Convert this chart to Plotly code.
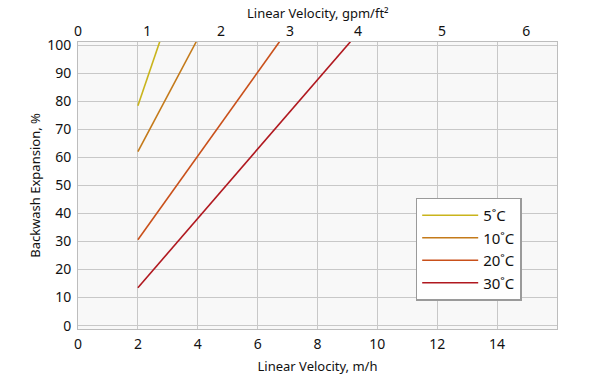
import plotly.graph_objects as go

series_names = ["5˚C", "10˚C", "20˚C", "30˚C"]
series_x = [[2, 2.73], [2, 3.95], [2, 6.73], [2, 9.10]]
series_y = [[78.4, 101.2], [62.0, 101.2], [30.6, 101.2], [13.5, 101.2]]
colors = ["#c9b41c", "#c47a1a", "#c9501a", "#b0181f"]

bottom_ticks = [0, 2, 4, 6, 8, 10, 12, 14]
top_tick_pos = [0, 2.31, 4.78, 7.08, 9.35, 12.16, 14.97]
top_tick_text = ["0", "1", "2", "3", "4", "5", "6"]
y_ticks = list(range(0, 101, 10))

font = "Noto Sans"
fig = go.Figure()
for n, xs, ys, c in zip(series_names, series_x, series_y, colors):
    fig.add_trace(go.Scatter(x=xs, y=ys, mode="lines", name=n,
                             line=dict(color=c, width=1.6)))
fig.add_trace(go.Scatter(x=[0, 16], y=[None, None], xaxis="x2", showlegend=False,
                         hoverinfo="skip", mode="lines"))

fig.update_layout(
    width=600, height=377,
    margin=dict(l=78, r=43, t=42, b=48),
    paper_bgcolor="white", plot_bgcolor="#f8f8f8",
    font=dict(family=font, size=14, color="#111"),
    xaxis=dict(range=[0, 16], tickvals=bottom_ticks, showgrid=True, automargin=False,
               gridcolor="#c8c8c8", gridwidth=1, showline=True, linecolor="#bdbdbd",
               mirror=True, zeroline=False, ticks="", tickfont=dict(size=14),
               ticklabelstandoff=2,
               title=dict(text="Linear Velocity, m/h", font=dict(size=13), standoff=10)),
    xaxis2=dict(range=[0, 16], overlaying="x", side="top", tickvals=top_tick_pos,
                ticktext=top_tick_text, showgrid=False, zeroline=False, ticks="",
                automargin=False, tickfont=dict(size=14), ticklabelstandoff=2),
    yaxis=dict(range=[-1.2, 101.1], tickvals=y_ticks, showgrid=True, automargin=False,
               gridcolor="#c8c8c8", gridwidth=1, showline=True, linecolor="#bdbdbd",
               mirror=True, zeroline=False, ticks="", tickfont=dict(size=14),
               ticklabelstandoff=3,
               title=dict(text="Backwash Expansion, %", font=dict(size=13), standoff=3)),
    legend=dict(x=0.705, y=0.458, xanchor="left", yanchor="top",
                bgcolor="white", bordercolor="#9a9a9a", borderwidth=1.5,
                font=dict(size=15), itemwidth=56),
    annotations=[dict(text="Linear Velocity, gpm/ft²", xref="paper", yref="paper",
                      x=0.5, y=1, yshift=29, xanchor="center", yanchor="middle",
                      showarrow=False, font=dict(size=13))],
    showlegend=True,
)
fig.write_html("out.html", config={"displayModeBar": False},
               post_script="document.body.style.margin='0';")
